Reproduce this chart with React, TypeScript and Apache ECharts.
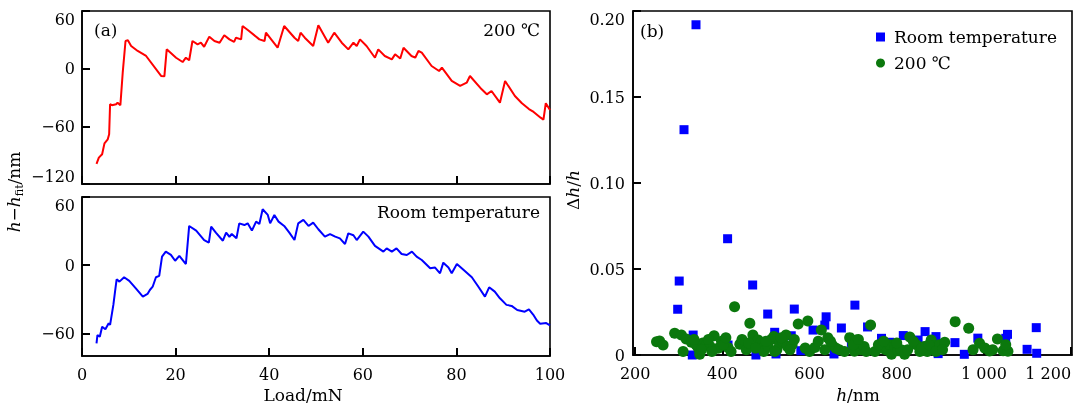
import React, { useEffect, useRef } from "react";
import * as echarts from "echarts";

const FONT = "'DejaVu Serif', serif";

// Panel (a), 200 ℃ : [Load (mN), h - h_fit (nm)]
const hotLoad = [3.1, 3.6, 4.3, 4.8, 5.5, 5.8, 6.0, 6.4, 7.3, 7.6, 8.2, 8.7, 9.3, 9.8, 10.5, 11.9, 13.7, 16.9, 17.6, 18.1, 20.1, 21.5, 22.2, 22.9, 23.6, 24.7, 25.4, 26.1, 27.2, 28.3, 29.4, 30.4, 31.5, 32.5, 32.9, 34.0, 34.3, 35.7, 37.9, 39.0, 39.3, 41.8, 43.2, 45.4, 46.2, 46.7, 47.6, 49.4, 50.5, 52.6, 53.9, 55.5, 56.9, 58.0, 58.7, 59.4, 60.8, 62.6, 63.3, 64.7, 66.2, 66.9, 68.0, 68.7, 70.4, 71.2, 71.9, 72.6, 74.7, 76.3, 76.9, 79.0, 80.8, 82.2, 82.9, 85.4, 86.5, 87.5, 89.3, 90.4, 92.5, 94.0, 95.5, 96.5, 98.0, 98.6, 99.1, 100];
const hotDev = [-99, -92.6, -89, -77.7, -73.5, -68.3, -37, -38, -37, -35.4, -38, -4.2, 28.8, 29.5, 23.6, 18.4, 13.2, -7.6, -8, 20.1, 11.4, 6.9, 11.4, 8.8, 28.8, 25.3, 27, 22.8, 33.3, 28.8, 27, 34.7, 30.5, 27.8, 32.2, 30.5, 44.4, 39.2, 30.5, 28.8, 37.4, 21.8, 44.4, 32.2, 28.8, 37.4, 32.2, 23.6, 45.1, 27, 37.4, 27, 20.1, 27, 23.6, 30.5, 23.6, 11.4, 20.1, 13.2, 9.7, 14.9, 10.5, 21.8, 13.2, 11.4, 18.4, 16.7, 2.8, -2.4, 1, -12.8, -18, -14.6, -7.6, -21.5, -26.7, -23.2, -35.4, -12.8, -28.4, -36, -42, -45, -51, -53, -36, -43];

// Panel (a), room temperature
const rtLoad = [3.1, 3.3, 3.8, 4.3, 5.0, 5.7, 6.0, 6.7, 7.1, 7.4, 8.0, 9.0, 10.1, 11.5, 13.0, 14.0, 14.5, 15.1, 15.8, 16.5, 17.1, 17.9, 19.0, 19.9, 20.8, 22.2, 22.9, 24.4, 26.1, 27.1, 27.6, 28.6, 30.1, 30.8, 31.5, 32.0, 33.0, 33.6, 34.7, 35.4, 36.3, 37.2, 37.9, 38.6, 39.7, 40.2, 41.1, 42.0, 43.2, 44.3, 45.4, 46.2, 47.3, 48.4, 49.4, 50.5, 51.9, 53.0, 54.1, 55.1, 56.2, 56.9, 58.0, 58.7, 60.1, 61.2, 62.6, 64.4, 65.1, 66.2, 67.2, 68.3, 69.4, 70.5, 71.5, 72.6, 74.4, 75.4, 76.5, 77.2, 78.3, 79.0, 80.1, 81.5, 83.3, 84.7, 86.1, 87.0, 88.2, 89.3, 90.7, 91.8, 93.0, 94.6, 95.5, 96.4, 97.2, 97.9, 99.2, 100];
const rtDev = [-68.8, -61.5, -63, -54.2, -56.5, -51.2, -52.6, -35, -21.9, -12.5, -14.5, -10.7, -13.8, -20.4, -27.7, -25.4, -21.9, -19, -10.7, -9.5, 7.5, 11.9, 9, 3.9, 8.1, 1, 34.5, 30.4, 22.1, 19.8, 33.9, 28.6, 21.5, 28.6, 25, 27.4, 23.6, 36.8, 35.3, 36.8, 30.4, 38.3, 36.2, 49.2, 44.2, 36.8, 44.2, 38.3, 34.5, 28.6, 22.1, 36.8, 39.8, 34.5, 37.4, 31.6, 25.1, 27.4, 25.1, 23.6, 18.6, 28, 26.3, 22.1, 29.5, 25.1, 16.9, 11.9, 14.8, 11.9, 14.8, 9.8, 8.9, 11.9, 7.5, 4.5, -2.8, -2.0, -7.2, 2.2, -2.0, -7.2, 1, -4.1, -10.7, -19, -27.7, -19.5, -23.3, -29.2, -35, -35.9, -39.5, -41, -39, -43.5, -48.8, -51.6, -51, -53];

// Panel (b): [h (nm), Δh/h]
const rtH = [339.5, 312, 412, 301, 297.5, 469.5, 504, 565, 704, 638, 673, 733, 1120, 1054, 1050, 933.5, 865, 815, 986, 1099, 1121, 955, 333, 331, 413, 477, 520, 523, 558, 580, 608, 635, 656, 696, 697, 765, 784, 890, 895, 849];
const rtRatio = [0.192, 0.131, 0.0676, 0.043, 0.0266, 0.0407, 0.0238, 0.0267, 0.029, 0.0222, 0.0157, 0.0163, 0.0159, 0.012, 0.0097, 0.0072, 0.0136, 0.0113, 0.0098, 0.0033, 0.001, 0.0004, 0.0116, 0, 0.0058, 0, 0.0132, 0.0006, 0.0112, 0.0025, 0.0145, 0.0174, 0.0006, 0.0074, 0.0043, 0.0097, 0.0074, 0.0107, 0.0008, 0.0087];

const hotH = [249, 256, 264, 290.6, 306, 310, 317, 329, 340, 345, 348, 355, 363, 372, 381, 390, 398, 413, 420, 428, 440, 455, 463, 470, 482, 489, 495, 505, 512, 518, 525, 531, 538, 546, 549, 560, 574, 596, 600, 612, 620, 627, 642, 652, 660, 668, 680, 692, 703, 707, 718, 725, 740, 750, 765, 775, 784, 788, 795, 803, 810, 818, 830, 845, 853, 863, 870, 879, 885, 898, 910, 934, 965, 975, 990, 1002, 1013, 1031, 1044, 1055,
  335, 352, 368, 376, 402, 408, 445, 460, 476, 500, 520, 535, 555, 565, 590, 635, 648, 700, 712, 730, 758, 770, 800, 825, 838, 858, 874, 890, 905, 1020, 1050];
const hotRatio = [0.0077, 0.0081, 0.0058, 0.0126, 0.0116, 0.002, 0.0093, 0.0074, 0.0058, 0.0039, 0.0004, 0.007, 0.0058, 0.005, 0.0112, 0.0039, 0.008, 0.0043, 0.002, 0.028, 0.0062, 0.003, 0.0184, 0.0116, 0.0087, 0.0074, 0.002, 0.005, 0.009, 0.0107, 0.003, 0.0068, 0.008, 0.0116, 0.005, 0.006, 0.018, 0.0198, 0.002, 0.0043, 0.008, 0.0145, 0.01, 0.0058, 0.004, 0.003, 0.002, 0.0101, 0.0022, 0.0087, 0.003, 0.005, 0.0174, 0.002, 0.004, 0.003, 0.006, 0.0004, 0.005, 0.0025, 0.003, 0.0004, 0.0105, 0.006, 0.002, 0.0049, 0.002, 0.0087, 0.004, 0.006, 0.0074, 0.0194, 0.0155, 0.003, 0.0068, 0.004, 0.0023, 0.0093, 0.0025, 0.0022,
  0.009, 0.003, 0.009, 0.002, 0.006, 0.01, 0.009, 0.007, 0.004, 0.008, 0.002, 0.01, 0.003, 0.009, 0.004, 0.003, 0.008, 0.006, 0.009, 0.002, 0.006, 0.008, 0.007, 0.003, 0.008, 0.004, 0.006, 0.002, 0.003, 0.003, 0.006];

const loadTicks = [0, 20, 40, 60, 80, 100];
const devTicksBottom = [-60, 0, 60];
const hTicks = [200, 400, 600, 800, 1000, 1200];

const zip = (a: number[], b: number[]) => a.map((v, i) => [v, b[i]]);
const minus = (v: number) => String(v).replace("-", "\u2212");
const thousands = (v: number) => (v >= 1000 ? `${Math.floor(v / 1000)} ${String(v % 1000).padStart(3, "0")}` : String(v));

const axisLine = () => ({ show: true, onZero: false, lineStyle: { color: "#000", width: 1.6 } });
const tick = (extra: object = {}) => ({ show: true, inside: true, length: 8, lineStyle: { color: "#000", width: 2 }, ...extra });
const label = (extra: object = {}) => ({ color: "#000", fontFamily: FONT, fontSize: 16, ...extra });

export default function App() {
  const ref = useRef<HTMLDivElement>(null);
  useEffect(() => {
    if (!ref.current) return;
    const chart = echarts.init(ref.current, undefined, { renderer: "svg" });
    const grid = (left: number, top: number, width: number, height: number) => ({ show: true, borderColor: "#000", borderWidth: 1.6, left, top, width, height });
    chart.setOption({
      animation: false,
      grid: [grid(82, 11, 468, 173), grid(82, 197, 468, 159), grid(633, 11, 439, 344)],
      xAxis: [
        { gridIndex: 0, type: "value", min: 0, max: 100, interval: 20, axisLine: axisLine(), axisTick: tick(), axisLabel: { show: false }, splitLine: { show: false } },
        { gridIndex: 1, type: "value", min: 0, max: 100, interval: 20, axisLine: axisLine(), axisTick: tick(), axisLabel: label({ margin: 10, customValues: loadTicks }), splitLine: { show: false } },
        { gridIndex: 2, type: "value", min: 195, max: 1202, axisLine: axisLine(), axisTick: tick({ customValues: hTicks }), axisLabel: label({ margin: 10, customValues: hTicks, alignMaxLabel: "right", formatter: (v: number) => thousands(v) }), splitLine: { show: false } },
      ],
      yAxis: [
        { gridIndex: 0, type: "value", min: -120, max: 60, interval: 60, axisLine: axisLine(), axisTick: tick(), axisLabel: label({ margin: 7, verticalAlignMinLabel: "bottom", verticalAlignMaxLabel: "top", formatter: (v: number) => minus(v) }), splitLine: { show: false } },
        { gridIndex: 1, type: "value", min: -80, max: 60, axisLine: axisLine(), axisTick: tick({ customValues: devTicksBottom }), axisLabel: label({ margin: 7, customValues: devTicksBottom, verticalAlignMaxLabel: "top", formatter: (v: number) => minus(v) }), splitLine: { show: false } },
        { gridIndex: 2, type: "value", min: 0, max: 0.2, interval: 0.05, axisLine: axisLine(), axisTick: tick(), axisLabel: label({ margin: 8, verticalAlignMaxLabel: "top", formatter: (v: number) => (v === 0 ? "0" : v.toFixed(2)) }), splitLine: { show: false } },
      ],
      legend: {
        data: ["Room temperature", "200 \u2103"],
        orient: "vertical",
        left: 871,
        top: 19,
        itemWidth: 9,
        itemHeight: 9,
        itemGap: 0,
        textStyle: { color: "#000", fontFamily: FONT, fontSize: 17, lineHeight: 26, padding: [0, 0, 0, 4] },
      },
      series: [
        { name: "hot-line", type: "line", xAxisIndex: 0, yAxisIndex: 0, data: zip(hotLoad, hotDev), showSymbol: false, lineStyle: { color: "#ff0000", width: 2 }, itemStyle: { color: "#ff0000" } },
        { name: "rt-line", type: "line", xAxisIndex: 1, yAxisIndex: 1, data: zip(rtLoad, rtDev), showSymbol: false, lineStyle: { color: "#0000ff", width: 2 }, itemStyle: { color: "#0000ff" } },
        { name: "Room temperature", type: "scatter", xAxisIndex: 2, yAxisIndex: 2, data: zip(rtH, rtRatio), symbol: "rect", symbolSize: 9, itemStyle: { color: "#0000ff", opacity: 1 } },
        { name: "200 \u2103", type: "scatter", xAxisIndex: 2, yAxisIndex: 2, data: zip(hotH, hotRatio), symbol: "circle", symbolSize: 11, itemStyle: { color: "#0b780d", opacity: 1 } },
      ],
      graphic: [
        { type: "text", left: 94, top: 21, style: { text: "(a)", fontFamily: FONT, fontSize: 17, fill: "#000" } },
        { type: "text", right: 1081 - 540, top: 21, style: { text: "200 \u2103", fontFamily: FONT, fontSize: 17, fill: "#000" } },
        { type: "text", right: 1081 - 540, top: 203, style: { text: "Room temperature", fontFamily: FONT, fontSize: 17, fill: "#000" } },
        { type: "text", left: 640, top: 22, style: { text: "(b)", fontFamily: FONT, fontSize: 17, fill: "#000" } },
        { type: "text", x: 303, y: 395, style: { text: "Load/mN", fontFamily: FONT, fontSize: 17, fill: "#000", align: "center", verticalAlign: "middle" } },
        {
          type: "text", x: 858, y: 395,
          style: { text: "{i|h}/nm", fontFamily: FONT, fontSize: 17, fill: "#000", align: "center", verticalAlign: "middle", rich: { i: { fontStyle: "italic", fontFamily: FONT, fontSize: 17 } } },
        },
        {
          type: "text", x: 573, y: 190, rotation: Math.PI / 2,
          style: { text: "\u0394{i|h}/{i|h}", fontFamily: FONT, fontSize: 17, fill: "#000", align: "center", verticalAlign: "middle", rich: { i: { fontStyle: "italic", fontFamily: FONT, fontSize: 17 } } },
        },
        {
          type: "text", x: 14, y: 192, rotation: Math.PI / 2,
          style: {
            text: "{i|h}{n|\u2212}{i|h}{s|fit}{n|/nm}", fontFamily: FONT, fontSize: 17, fill: "#000", align: "center", verticalAlign: "middle",
            rich: {
              i: { fontStyle: "italic", fontFamily: FONT, fontSize: 17, lineHeight: 22, verticalAlign: "middle" },
              n: { fontFamily: FONT, fontSize: 17, lineHeight: 22, verticalAlign: "middle" },
              s: { fontFamily: FONT, fontSize: 11, lineHeight: 14, verticalAlign: "bottom" },
            },
          },
        },
      ],
    });
    return () => chart.dispose();
  }, []);
  return <div ref={ref} style={{ position: "fixed", left: 0, top: 0, width: 1081, height: 407 }} />;
}
